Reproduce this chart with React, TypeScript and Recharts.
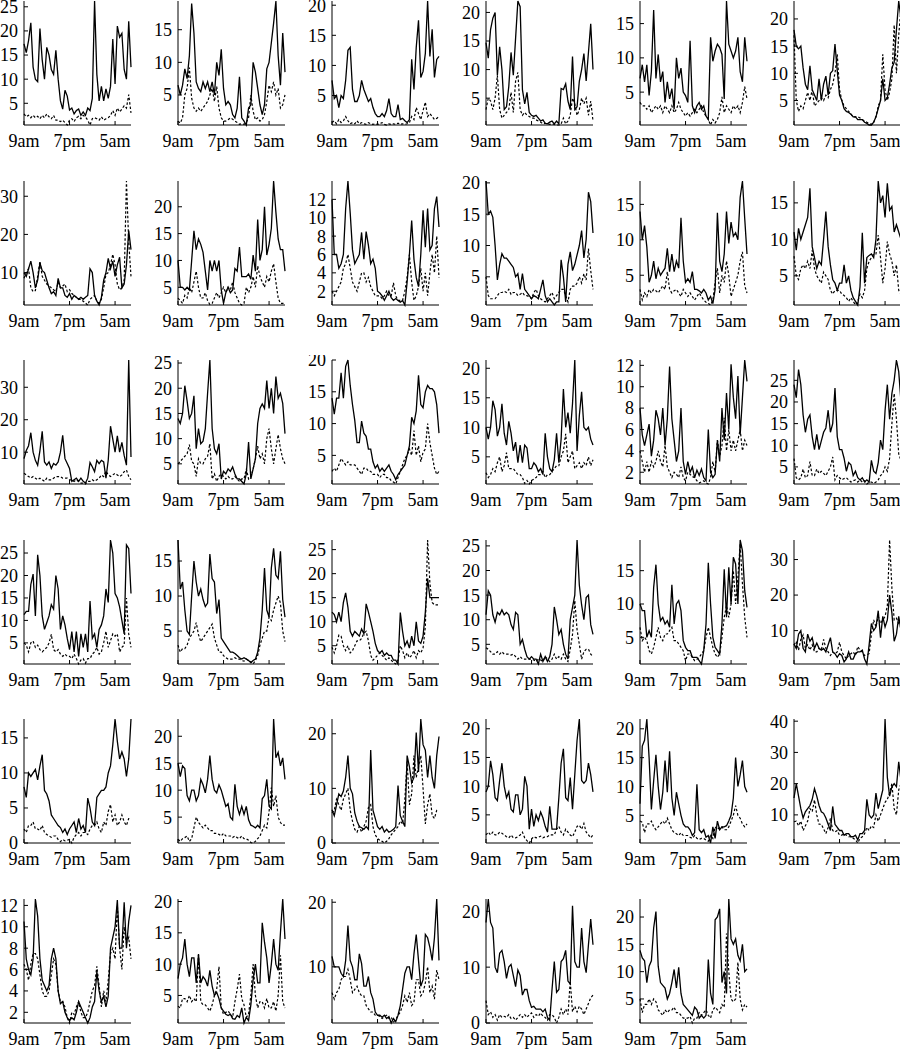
import React from 'react';
import { LineChart, Line, XAxis, YAxis } from 'recharts';

// time axis: hours after 9am, half-hour samples
const HOURS = [
  0, 0.5, 1, 1.5, 2, 2.5, 3, 3.5, 4, 4.5, 5, 5.5,
  6, 6.5, 7, 7.5, 8, 8.5, 9, 9.5, 10, 10.5, 11, 11.5,
  12, 12.5, 13, 13.5, 14, 14.5, 15, 15.5, 16, 16.5, 17, 17.5,
  18, 18.5, 19, 19.5, 20, 20.5, 21, 21.5, 22, 22.5, 23, 23.5,
];
const X_TICKS = [0, 10, 20];
const X_LABELS = ['9am', '7pm', '5am'];

const s01 = [17.3,15.5,18,21.7,12.5,10,9.5,20.5,14,10,16.6,15, 12,11,16,10,5.5,3.8,7.7,6.5,3.6,4,2.8,3.5, 3.8,2.5,3.2,2.5,4,3.5,6,26.2,11,5.5,8.5,5.5, 8,6,8.5,18.3,9,21,18.7,19.5,12,10,22,12.5];
const d01 = [2.8,2.2,2.5,2,2.5,2,2.3,1.8,2.5,2,2.8,2.2, 1.8,2.5,1.5,1.5,1.2,1.5,1,0.5,1.5,1.8,1.2,2, 2.3,1.8,2.5,2.2,1.5,0.5,1.8,2,1.8,1.5,2.2,1.5, 1.8,2,2.5,3.5,2.5,4,3.2,3.8,4.5,4,6.8,3];
const y01 = [5, 10, 15, 20, 25];

const s02 = [6.5,5,6.5,9,7.5,11,19,14.5,7,6,5.5,7, 6,7,5.5,7,5,10,8,12,6,3.5,4,3.5, 2,1.5,3,7.8,1.5,1,0.4,3,3.5,10,8.5,6, 3.5,2,3.5,9,10,13,16,19.4,11,6.5,14.5,8.5];
const d02 = [1,0.7,1.5,5,6,9.2,4.5,3,2.5,3,2.5,3, 3.5,4,5,6,4,6.3,3,1.5,1,1,1.2,1.5, 1.3,1,0.8,0.5,0.6,0.5,0.8,1.5,5,2.5,1.2,1.5, 1,1.2,2,4,6.5,5.5,7,5,6,3,3.5,5];
const y02 = [5, 10, 15];

const s03 = [7.5,4.5,5,3,5,4.5,7.5,12.5,13,6,4,4, 5,7.5,6,5,4,4.5,3,2,1.5,1.5,2,1.5, 2.5,4.5,2,1.5,1.5,3.5,1,1.2,0.8,0.5,1,11, 6,13,17.5,8,9,12,20.7,11.5,16,8,11,11.5];
const d03 = [0.5,0.8,0.3,1,0.5,0.8,1.5,0.8,0.3,0.5,0.3,0.8, 0.3,0.5,0.3,0.2,0.5,0.3,0.2,0.3,0.2,0.3,0.5,0.2, 0.1,0.3,0.2,0.3,0.2,0.4,0.2,0.3,0.2,0.3,0.5,1.5, 1,3,2,1,2.5,3.9,1.5,2,1.5,1,1.2,1.5];
const y03 = [5, 10, 15, 20];

const s04 = [14.7,12,17,19,20,9,14,10,3,3.5,7,13, 9,15.5,22,21,6.5,4,6,2.5,2,1.8,2,1.5, 1,1.2,0.6,0.5,0.8,1,0.5,1,0.5,6.7,6.5,7.5, 4.5,3,12.3,3,3.5,8,10,12.8,8,13,18,10];
const d04 = [3,5,4.5,3,5,9,3,1.5,2,2.5,3,6, 2.5,8,9.5,3,2,2.5,2,1.8,1.5,1.5,1.2,1, 0.8,0.5,0.6,0.5,0.4,0.5,0.4,0.3,0.3,0.5,1.5,0.5, 1,2,5,4,2,3,5,4,5,2,4.5,1];
const y04 = [5, 10, 15, 20];

const s05 = [7,9,6.5,9,4.5,8,17,7,10.5,6.5,8,3.5, 6.5,4,5.5,2.5,10,7,8.5,5,4.5,3.5,12.5,3, 2,3,3.5,2.5,3,1.5,1,13,9.5,11,12,11.5, 10.5,4,18.3,12,11,10,11,13,8,6.5,13,9.5];
const d05 = [3.5,3,3,2.5,3,2,2.5,3,2.5,3,2,3, 2.5,2,3,2,2.5,3.5,2.5,2,1.5,2,1.5,2, 2.5,2,2.5,3,2,1.5,1,0.2,1,0.5,1,2, 4.3,2,3,2.5,2,3,2.5,3,2,3.5,5.8,4];
const y05 = [5, 10, 15];

const s06 = [18,15,14.5,15,11,8,7,11.4,7,6,5,9, 5,8,9.5,6,10,10.5,15.4,10.5,6,5,3.5,3, 2.8,2.5,2,2,1.5,1.5,1.5,1,0.8,0.5,0.5,1, 2,3.5,5,9,5,5.5,8,11,12,18,23.3,20];
const d06 = [17,5,3,4,3.5,5,6.5,5,7,4,4.5,5, 5.5,5,6,5.5,7,8,10,13.5,7,5,4,3.5, 3,2.5,2,2,2,1.8,1.5,1.2,1,0.8,0.6,1, 2,4,5,13.5,7,5,6.5,9,18.9,10,17,22];
const y06 = [5, 10, 15, 20];

const s07 = [10,9,11,13,10,6,8,12.5,10.5,10,8,6, 4.5,5,4,8.5,6,6,4,3.5,4.5,3,4,3.5, 3,3.5,3,3.5,4,11,10,4,2.5,1.5,3.5,8, 10,13.7,11,13,9,12,14,6,7,12,21,16];
const d07 = [8.5,10,11,6,5,5.3,9,13,9,8,7,6.5, 6,5.5,5,7.5,6,6.5,7,5,5.5,4.5,4,3.5, 3,3,2.5,2,1.5,3,3.5,4,2.5,2,3,6, 9.5,10,12,14.8,12,7,5.5,6,8,34,18,9];
const y07 = [10, 20, 30];

const s08 = [10,5,5,4.5,5,4.5,10,15.5,12,14,13,11.5, 8,4.5,10,8,10,8,10,4.5,2,4,5,4, 4.5,8.5,8,12.5,7,7,7,7.5,6.5,11,8,17.6, 10,12,20,11,13,16,24.8,19,14,12,12,8];
const d08 = [3,2.5,2,3.5,3,5,4,6,8,5,3,3, 4,2.5,1.8,2,3,4,3,4,5,4,5,4.5, 6,4,3,2,1.7,2,5,4,5,7,5,9, 7,6,5,7,6,8,9.4,6,3,2,2,2];
const y08 = [5, 10, 15, 20];

const s09 = [12,6,6,4.5,5,6,11,14,10.5,6.5,5,5.5, 6,8.4,5.5,8.5,7,5,5.5,4.5,2,1.8,1.5,1, 1.5,2,1.3,1,1.2,1,0.8,1,0.5,3,6,9.7, 5.5,3.5,2.5,6,10.8,6.8,11,6.5,7,11,12.3,9];
const d09 = [2,1.5,2,2.5,3,4.5,5,6,4.5,3,2.5,2, 3,4,4,3,3.5,2.5,2,1.5,1.5,1.5,1.2,1.5, 2,1.5,1.5,2.9,1.5,1,1,1,2,3.5,6,3, 1,1.5,2.5,4.5,2,4,1.5,4,6,4,8,3.5];
const y09 = [2, 4, 6, 8, 10, 12];

const s10 = [20.3,15,15.5,14.5,10,4.5,7,8.7,8,8,7.5,7, 6.5,5,5.5,3,5.5,3,2.5,2,1.5,2,1.8,1.5, 3,4.5,2,1,1.5,1,0.5,1,1,7.7,5,1, 7,9,6,7,8.5,10,12.4,8,11,18.5,17,12];
const d10 = [5,2,1.5,1.5,1.5,2,2.5,2.5,2.7,2.5,3,2.2, 2.5,2.5,2,2.2,2.5,2,2,1.8,1.5,2.5,3,2, 1.5,1.2,1,1.5,2,2.5,1.5,2,2.5,3,3,2, 1,3,3.5,3.5,4,5,4,5.5,4.5,9.5,6,3];
const y10 = [5, 10, 15, 20];

const s11 = [14,10,12,9,4,5,7,4.5,6,5,5.5,6, 8.8,5.5,8,5.5,7,6,13.1,7,4,4.5,4,5.5, 3,3,2.8,2.5,3,2.5,1.5,2,1,3,13.8,7, 5.5,8,14,9.5,12.5,10.5,11,10,16,18.3,13,8];
const d11 = [3,1.5,2.5,2,3,2.5,3,2.8,2.5,3,3.5,3, 5.5,3,2.5,2.8,3,2.5,2,3,2.5,2,2.5,2, 1.5,2,2.5,2,1.5,1.2,1,0.8,1.5,4,6,2.5, 5,4,7,5,2,3,4,5,7,8.3,3.5,2.5];
const y11 = [5, 10, 15];

const s12 = [11,8.5,11.5,10,11,12,13,17,9,7.5,6,7, 6.5,10,13.8,9,6.5,4.5,4,3,4,4,6.5,4, 5,3,2,1.5,1,3.5,10.9,4,7.5,7.8,8,7.5, 10,18,15,16,13,17.7,14,14.5,11,12,11,10];
const d12 = [7.7,5,4.5,6,6.5,6,7,6,8.5,6,5,4.5, 4,5.5,5,4.5,3,2.5,3,3,3,2.5,2.3,2, 1.5,2,1.5,1,1.5,2.5,2,3,6,7,7.5,8, 8,10.6,7.5,4,6,9.7,8,7,5,6.5,3,2.5];
const y12 = [5, 10, 15];

const s13 = [8,10.5,12,16,10,7.5,6,10.5,16.4,7,6,7, 5,6.5,6,7,10,15.2,8,6.5,5,1,1.5,2, 1,2,1,0.5,2,6.8,5.5,4,7.5,6.5,7.5,7, 2,7.5,18,14,10,15,10,13,9,6,38.4,8.5];
const d13 = [3.5,3,2.5,2,2.5,2,1.5,2,1.5,1,2,1.5, 1.5,2,2.5,2.5,2.5,2,2,2,1.5,1.5,1,1.5, 1,0.5,0.5,0.2,1,1,1.5,1,1.5,2,3,2.5, 4.2,3,2.5,3,3.5,3,2.5,3,4,4.5,2.5,1.5];
const y13 = [10, 20, 30];

const s14 = [14,13,15,20.5,17.5,14,15,18.5,8,12,9,9.5, 12,19,25.6,12,8,7,9,2,3.5,3,4,3.5, 4.4,3,2,2,1.5,1,3,9.3,2,4,6,13, 16,16.9,16,21.5,16,20,15,22.3,18,19,17,11];
const d14 = [5,5.5,6,6.5,7,8.8,5.5,5,2.5,6,5,5, 6,6.5,9,2,3,1.5,2.5,3,2.5,2,2.5,2, 2,2.5,2,1.5,2,2,4,2,2.5,4,6,8.5, 6,7,5,10,12,8,5,8,10.8,8,6,5];
const y14 = [5, 10, 15, 20, 25];

const s15 = [14,11.5,14,14,18,14,19,20,16,13,10.5,7, 7,10.4,8.5,8,6,6,4,3,3.5,2.5,3,2.5, 3,3.5,2.5,2,1.2,2,2.5,3,3.5,5,6.5,11, 10,12,17.6,13,12.5,15,16,15.5,15.5,15,13,8.5];
const d15 = [2.5,3,2.5,3.5,4.5,4,3.5,4,3.5,3.5,3.5,3, 2.5,2,3,3,2.5,2.5,2,2,2,1.5,2,2, 1.5,1.5,1,0.8,0.5,1.5,2.5,3.5,4.5,5,6,5, 8.9,5,6.5,4,5.5,6,10,7,5,3,2,2.5];
const y15 = [5, 10, 15, 20];

const s16 = [10,8,10,14.5,13,8.5,10,14,9,7,11,9, 6,7.5,4,7,4,7,6.5,3,3,4,3.5,2.5, 3,2,9,5,3,2.5,4.5,9,4,8,16.5,10, 12.5,9,14,21.4,6,12,16,10,9.5,10,8,7];
const d16 = [2.3,1.5,2,3,2.5,4,5,2.5,3.5,5.7,3,3, 3,2.5,2,2,1.5,0.5,1,0.4,1,1.2,1.5,2, 2,2.5,1.5,2,2,2.5,3,3.5,3.5,5,6,8.9, 4,5,6,3,3.5,4,3,4,3.5,5,3.5,4.5];
const y16 = [5, 10, 15, 20];

const s17 = [8,5.5,4.5,5.5,6.5,3.5,5,7.8,7,5.5,8,4.5, 7,11.9,7,5,3,4,8,3,1.8,3,2,2.5, 1.5,2.2,1.7,2.3,1.5,1.2,6,2,1.5,1.8,5,3, 8,5,9.4,6,12.1,9,7,11,5.5,9,12.5,10.5];
const d17 = [4,3,2,3,2,3,2.5,3,4,3,2.5,4.5, 2.5,2,1.5,2,1.8,1.5,2.5,1.5,1.2,2,1.8,1.6, 1.5,1.2,1,1.1,1.2,1,0.9,1.5,3,2,5,3.5, 4.5,7.1,4,6,4,5,4,5,6,4,5,4.5];
const y17 = [2, 4, 6, 8, 10, 12];

const s18 = [24,21,27.5,24,17,13,16,17,12,9,12.5,9, 11,13,14,18.1,13,15,23.2,12,9,9,7,4, 6,5.5,3,4,2.5,2,2.5,1.5,2,1.5,6.5,4, 3.5,6,11.2,9,18,24,16,22,25,29.7,27,20];
const d18 = [6.9,2.5,2,2.5,4.5,2.5,3,6.2,3,3,4.5,3.5, 4,3.5,3,4,5,7.3,2,3,2.5,2,2.3,2.5, 2,1.5,1.8,2,1.5,2,1.5,1.8,1.05,1.5,1.5,1.2, 1.5,2,3,3.5,5,4,7,15,22,16,8,6.5];
const y18 = [5, 10, 15, 20, 25];

const s19 = [11.3,12,12,18,20.3,11,24.6,20,11,8,9.5,11, 13.5,12.5,20,17,8,11,9,6,3.5,7.5,3,7.5, 2,7,4,7,3,14.3,6,7,4,8,9,11, 17,14,27.9,25,16,15,13,10,7,26.8,26,16];
const d19 = [5,4.5,3,5,5.4,4,4.5,3.5,3,3.5,4,5, 6.9,3.5,3,3.5,2.5,2,2.5,2,2,1.5,2.5,1.5, 0.3,1.2,1.5,0.5,1.5,1.5,2.5,3,4,2.5,3,5, 7.6,4,5.5,7,6.5,7,3,4,4.5,15,7,4];
const y19 = [5, 10, 15, 20, 25];

const s20 = [18,11,12,8,5,4.5,10,15,12,10,11,9.5, 8.5,9,16,12.5,12,7.5,9.5,4,3.5,3,2.5,2, 2,1.8,1.5,1.2,1,1.2,1,0.8,0.5,0.8,1,2, 4,8,14,8,7,14,16.8,13,12.5,16.4,9.5,7];
const d20 = [3,2,2.5,2.5,3,4,4.5,5,6.2,4.5,3.5,4, 4.5,5,5.5,6,4,3,2,2,1.5,1.2,1,1, 1,1.2,1,1,0.8,0.7,1,0.8,0.6,0.3,0.8,1.5, 3,4,5,5,7,6.5,8,9,10,9,5,3.5];
const y20 = [5, 10, 15];

const s21 = [12,11.5,10,12,10,14,16,13,8,7,8,7.5, 7,8.5,7.5,13.7,12,10,8,5.5,4,3.5,4,3, 3.5,3,3,2,2,1.2,11.9,8,5,6,4.5,7, 5,10,6,5.5,7,12,19,15,15,15,15,15];
const d21 = [4.7,3.5,5,7.2,7,5,4,5,3.5,4,5,6, 6,6.5,7.6,8,6,3,2,2.5,3,3.5,3,2.5, 2,2.5,2,1.5,1.2,2,5,4,2.5,3.5,2.5,3, 4,2.5,4,3.5,4.5,9,27,18,14,13.5,13.5,13.5];
const y21 = [5, 10, 15, 20, 25];

const s22 = [11,15.9,15,11,9.5,11.5,11,12,11,11.5,11,9, 8,11.5,11,5,6,4,2.5,2,2.5,2,2,1, 3,1.5,2.5,1.5,2.5,5,12.6,10,7,8,5,3, 2,10,12.5,15,26.2,17,13,10,14.5,15,9,7];
const d22 = [4.3,4,3.5,3,3,3.5,3,3.5,3,3,3,2.8, 3,2.5,2,2.5,2,2,2,2,2,1.8,1.5,2, 1.8,1.5,2.5,2,1.5,2,3,2,2.5,2,3,2, 1.5,4,7,13.9,8,5,2,3.5,4,4,3,2.5];
const y22 = [5, 10, 15, 20, 25];

const s23 = [10,9,9,5,6,5,12.5,15.9,10,7.5,8,7, 7.5,6.5,12.9,7,10,10.5,9,4.5,3.5,3,3,2, 2,2,1.5,1,3,7,16.2,10,5,3.5,3,2.5, 7,15.2,8,15.5,10,17,16,10,19.6,18,12,9.5];
const d23 = [6.5,4.5,5,4.5,3,2.5,3.5,5,6.5,5,4.5,5.5, 5.5,6,6.5,4.5,4.5,4,3.5,3,1.5,2.5,2.5,2, 1.5,1.7,2,2.5,3,5,6.5,5,3.5,2.5,2,2.5, 5,8,9.8,8,10,15,10,14,19,13,8,5];
const y23 = [5, 10, 15];

const s24 = [6.2,5,9,10,5,4,9,7,8,5,6.5,5, 4.5,5,4,6,8,4,3.5,2.5,3.5,3,1.2,2, 4,2,2,3.5,4,4,4.5,2,0.6,6,12,10, 11,15.6,8,14,11,13,20,15,7,9,14,10];
const d24 = [6,7,4.5,7.5,8.8,5,6,4.5,6,4,4,5, 4.5,7.5,5,4,3,4,3.5,4,6.7,4,3,2, 3,3.5,4,3,5.5,4.5,4,3,3.2,3.5,9,13, 11,14,12,13,14,17,35.5,22,13,13.5,12,11];
const y24 = [10, 20, 30];

const s25 = [8,6.5,10,9.5,10,10.5,9,11,12.6,7.5,7,6, 4,3.5,3,2.5,2.2,1.5,2,1.2,2,2.5,3,1.5, 3.5,2,2.5,1.5,6.4,5,3,2.5,6.5,7,7.5,7.5, 8,10,11,14,17.7,14.5,12,13,12,9.5,12,17.7];
const d25 = [2,1.5,2.5,2.5,3,2,2,1.8,2.5,1.5,1.2,1, 0.8,1,1,0.5,0.2,0.5,0.3,0.4,0.5,0,0.8,1.2, 1.5,1,1.5,1.5,1.2,2,2.5,2.5,3,2,1.5,3, 2.5,4.5,5.5,3,4,2.5,3,4,3,2.5,3.5,3.5];
const y25 = [0, 5, 10, 15];

const s26 = [15,12.5,14.5,14,9,8,10,10,8,9,12,11, 9.5,12,16.4,12,10,9.5,11,10,8.5,7,7.5,5, 4.5,11.1,7,5.5,7,5.5,7,4.5,3.5,3.3,3,3.5, 3,8.4,9,12,7,6.5,23.2,16,17,14.5,16,12];
const d26 = [0.9,0.5,1,1.2,1.5,0.5,1,3,5,4,3.5,3, 3.5,3,2.5,2.5,2,2,1.8,1.5,2,1.5,1.5,1.5, 1.2,1.5,1.2,1,1.5,1,1,0.7,0.3,0.2,0.5,1, 1.5,2.5,3.5,3,6,10.5,7,9,5,4,3.5,3.5];
const y26 = [5, 10, 15, 20];

const s27 = [6.1,5,7,9,8.5,9.5,12,16,10,9,5.5,4, 3,2.8,2.5,3,2.5,17,6,4.5,3,2.5,3,2, 2.5,2,2.2,2.5,3,10.5,5,4,3,16,14,11, 12,20.2,13,22.7,18,17,12,16,12,10,16,19.5];
const d27 = [5.5,6,8,7,6,8,9,10,6,4,2.5,2, 3,2,3,4,6.5,7,3,1.5,0.8,0.5,0.3,0, 0.3,0.8,1.5,2,2.5,3,4,3.5,8,14.9,7,9, 16,12,14,16,10,3.5,7,9,5,4.5,6,6];
const y27 = [0, 10, 20];

const s28 = [9,10,14.4,12,8,7.5,11,14,10,8,9,6, 5.5,8.5,8.5,5,6,11.7,10,2.5,6,3,5,4, 5.5,4.5,3,2,6.5,2.5,2.5,2.5,8,14,16.5,8, 7.5,11.5,6,12,18,21.7,11,10.5,11,14,12,9];
const d28 = [1.5,2,1.5,2,1.5,1.5,2,1.8,1.5,1.2,1,1.5, 1,1,1.2,1.5,2,1,0.5,0.1,0.8,1.2,1,1.1, 1.3,1,1.2,1.2,1.5,1.5,1.5,2.5,3,2,1.5,2.5, 2,1.5,1.2,2,3,3.2,2.5,3.5,2,1.5,1,1.5];
const y28 = [5, 10, 15, 20];

const s29 = [7,17,18,21.7,15,6,11,15.5,10,6,9,14.5, 9,16.1,8,5,9,7,5,3.5,3,3,2.5,1.5, 2,10.4,2.5,2,2.5,1.2,1.5,0.2,3,1,4,2.5, 3,3,3.2,4,5,8,15,10,12,14.5,10,9];
const d29 = [4,3.8,2,3.5,3.5,4,3,2.5,3,3.5,4,3.5, 4.5,3.5,2.5,2,1.8,1.5,2,1.5,1.5,1.5,1.2,1, 1.5,1,0.8,1,1,0.7,0.5,1.5,1,3,2.5,3, 3,2.5,2.5,3,4,5,6.7,5,4.5,3.5,3,3.5];
const y29 = [5, 10, 15, 20];

const s30 = [15.4,20,16,12,9,11,12,13,15,18.4,16,13, 11,10.5,9,7,5,12.7,7,6,5,5,3.5,4, 4,3,3,3.5,2,4,4,5,15,10,9,10, 17,12,15,18,40.7,22,16,19,20,19,27,21];
const d30 = [7.8,8,6.5,8,5,6.5,8,12,11,14.8,10,7, 7,5.5,4,6,8.9,5,4.5,5,3.5,3.5,4,3.5, 3,3,2.5,2,1,2.5,3,4,6,5,6.5,6, 10,8,10,12,14,15,17,20,12,10,18,20];
const y30 = [10, 20, 30, 40];

const s31 = [10.5,7,6,5.5,7,12.6,11,7,5,4.5,4,4.5, 7,8,7,4,2.8,3,2,1.5,1.2,1.5,1.3,2, 3,2.5,2,1.5,1,1.5,2.5,3,5.8,4,3,3.5, 2.5,3.5,8,9,10,12.5,8,8,12.3,8,10.5,12];
const d31 = [6.5,6,5,6.5,7.5,7.5,7,5.5,4,3.5,3.5,4, 5.5,7,6.5,4,3,3,2.5,1.5,1,2,1.8,2.5, 3,2,1.5,1.5,2,3,4,4.5,6.3,4.5,2.5,4, 3,5,7.5,8,7,12,8,6,10,8.5,9,7];
const y31 = [2, 4, 6, 8, 10, 12];

const s32 = [7.7,10,11,14,10,8,11,11,7,11.6,7,8, 7.5,6.5,9,6.5,5,5.5,4.5,3,2.5,2,1.8,2, 1.3,1.2,1.8,1.5,3,0.6,1.5,1,3.5,7.5,10,7, 7,16.6,13.5,11,7,10,14,10,9,15,20.4,14];
const d32 = [3.3,3,4.5,4.5,4,5,4,4.5,4,11.5,4,3.5, 3.5,3,2.5,3.5,5,6,9.6,3,2,2.3,2.5,2, 1.5,4,6,8.4,4.5,3.5,1.5,2,5,10,5,3, 4,4,3,4.5,3,3,4,2.5,5,11.4,4,3];
const y32 = [5, 10, 15, 20];

const s33 = [11.6,10,10,10,9,8.5,11,16.4,11,10,8,8, 12,10.5,7,7,8.5,6,5,3,2.5,2.5,2.2,2.5, 2,2.3,1.3,2,1.5,2.5,4,6.5,9,10,10,8, 12,15,11,7,8,15,14.5,13,11,14.5,20.5,11];
const d33 = [6,5,6,6.5,8,8.5,8.5,9.6,8,6,6.5,7, 6,5.5,5.5,4,3.5,3,3,2.5,2.5,2.3,2,2.3, 2.5,2,2.2,1.5,1.8,2.5,3,4,5.5,4.5,6,4, 4.5,8,8,5.5,6,7.5,10,6,7,5,9.5,8];
const y33 = [10, 20];

const s34 = [18,22.2,18,17,10,9,12.5,13,11,8,10,10.5, 8.5,6.5,9.5,8.5,5,6,6,4,2.8,3,2.5,2.5, 2.5,2,2.5,1,0.5,6,11,5.5,6,11,11.5,13, 7.5,7,21,11,10,10,17,11,9,14,18.6,14];
const d34 = [4,1.5,2,1,1.5,0.5,1.5,1,1.2,1,1.5,0.8, 1,0.5,1,1.5,1,1.5,1,1.5,1.8,1,1.5,1.2, 1.8,1.2,1,0.5,1.5,1.5,1,0,1,2.5,1.5,2.5, 1.5,7.5,2,3,2,3,2.5,1.5,2.5,3.5,4.5,5];
const y34 = [0, 10, 20];

const s35 = [13.9,12.5,12,8,11,12,18,21,11,8,7.5,7, 5,6,8,10.4,7,10.8,6,4,3.5,3,2.5,2, 3.5,3,1.5,2,1.5,2,12.2,6,4,19.5,20,21.5, 8,10,6,23.3,16,15,16,13,12,15,10,10.5];
const d35 = [5,2.5,4,4,5,4,5,4.5,3,2.5,2,3, 2.5,3,3,3.5,2.5,2.5,2,1.5,1.5,1.5,1.8,0.6, 1.5,1.5,2.5,2,2.5,3,2,1.5,3,3.5,3,2.5, 4,3.5,17,10,5,4.5,5,11.7,5,3,4,3.5];
const y35 = [5, 10, 15, 20];

const PANELS = [
  [s01, d01, y01], [s02, d02, y02], [s03, d03, y03], [s04, d04, y04], [s05, d05, y05], [s06, d06, y06],
  [s07, d07, y07], [s08, d08, y08], [s09, d09, y09], [s10, d10, y10], [s11, d11, y11], [s12, d12, y12],
  [s13, d13, y13], [s14, d14, y14], [s15, d15, y15], [s16, d16, y16], [s17, d17, y17], [s18, d18, y18],
  [s19, d19, y19], [s20, d20, y20], [s21, d21, y21], [s22, d22, y22], [s23, d23, y23], [s24, d24, y24],
  [s25, d25, y25], [s26, d26, y26], [s27, d27, y27], [s28, d28, y28], [s29, d29, y29], [s30, d30, y30],
  [s31, d31, y31], [s32, d32, y32], [s33, d33, y33], [s34, d34, y34], [s35, d35, y35],
];

// layout (pixels)
const PLOT_W = 107;
const PLOT_H = 124;
const Y_AXIS_W = 40;
const X_AXIS_H = 45;
const TOP_M = 5;
const RIGHT_M = 3;
const COL0 = 23.5;
const COL_STEP = 154;
const ROW0_BOTTOM = 125.3;
const ROW_STEP = 179.5;

const FONT = "'Liberation Serif', 'DejaVu Serif', 'Times New Roman', serif";
const tickStyle = { fontSize: 18, fill: '#000', fontFamily: FONT };

function Panel({ index, solid, dashed, ticks }: { index: number; solid: number[]; dashed: number[]; ticks: number[] }) {
  const col = index % 6;
  const row = Math.floor(index / 6);
  const plotLeft = COL0 + col * COL_STEP;
  const plotBottom = ROW0_BOTTOM + row * ROW_STEP;
  const plotTop = plotBottom - PLOT_H;
  const data = HOURS.map((t, i) => ({ t, s: solid[i], d: dashed[i] }));
  return (
    <div style={{ position: 'absolute', left: plotLeft - Y_AXIS_W, top: plotTop - TOP_M }}>
      <LineChart
        width={Y_AXIS_W + PLOT_W + RIGHT_M}
        height={TOP_M + PLOT_H + X_AXIS_H}
        data={data}
        margin={{ top: TOP_M, right: RIGHT_M, bottom: 0, left: 0 }}
      >
        <XAxis
          dataKey="t"
          type="number"
          domain={[0, 23.5]}
          ticks={X_TICKS}
          interval={0}
          tickFormatter={(v: number) => X_LABELS[X_TICKS.indexOf(v)] ?? ''}
          height={X_AXIS_H}
          tickSize={-4}
          tickMargin={13.2}
          axisLine={{ stroke: '#000', strokeWidth: 1 }}
          tickLine={{ stroke: '#000', strokeWidth: 1 }}
          tick={tickStyle}
        />
        <YAxis
          type="number"
          domain={['dataMin', 'dataMax']}
          ticks={ticks}
          interval={0}
          width={Y_AXIS_W}
          tickSize={-4}
          tickMargin={10}
          axisLine={{ stroke: '#000', strokeWidth: 1 }}
          tickLine={{ stroke: '#000', strokeWidth: 1 }}
          tick={tickStyle}
        />
        <Line
          dataKey="d"
          type="linear"
          stroke="#000"
          strokeWidth={1.2}
          strokeDasharray="2.5 2"
          dot={false}
          isAnimationActive={false}
        />
        <Line
          dataKey="s"
          type="linear"
          stroke="#000"
          strokeWidth={1.3}
          dot={false}
          isAnimationActive={false}
        />
      </LineChart>
    </div>
  );
}

export default function App() {
  return (
    <div
      style={{
        position: 'absolute',
        left: 0,
        top: 0,
        width: 900,
        height: 1050,
        overflow: 'hidden',
        background: '#fff',
        fontFamily: FONT,
      }}
    >
      {PANELS.map(([solid, dashed, ticks], i) => (
        <Panel key={i} index={i} solid={solid} dashed={dashed} ticks={ticks} />
      ))}
    </div>
  );
}
